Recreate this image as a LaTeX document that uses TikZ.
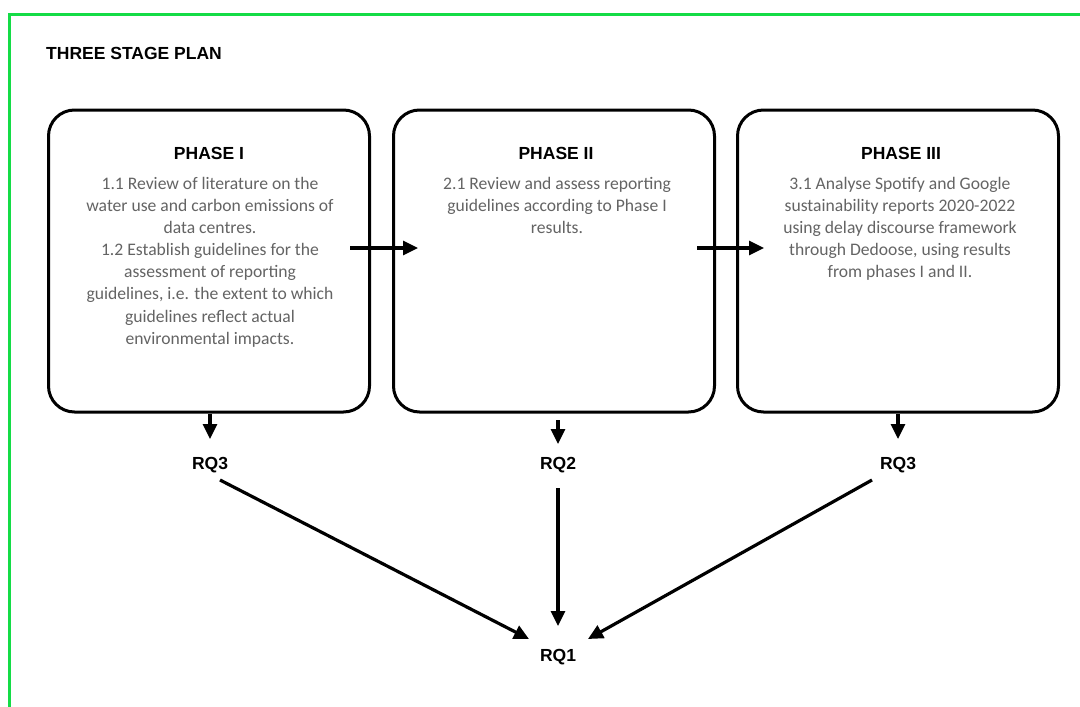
\documentclass[tikz,border=0pt]{standalone}
\usepackage{fontspec}
\setmainfont{Carlito}
\newfontfamily\headfont{Liberation Sans}
\usetikzlibrary{arrows.meta}
\definecolor{framegreen}{RGB}{20,220,70}
\definecolor{bodygray}{RGB}{100,100,100}
\begin{document}
\begin{tikzpicture}[x=1pt,y=-1pt,
  phasebox/.style={draw=black,line width=3pt,rounded corners=26pt,minimum width=321pt,minimum height=302pt,inner sep=0pt},
  headtxt/.style={font=\headfont\bfseries\fontsize{17.5}{20}\selectfont,inner sep=0pt},
  bodytxt/.style={font=\fontsize{17.6}{22.1}\selectfont,text=bodygray,align=center,inner sep=0pt,anchor=north},
  rqtxt/.style={font=\headfont\bfseries\fontsize{17.5}{20}\selectfont,inner sep=0pt},
  arr/.style={line width=3.2pt,-{Triangle[length=15pt,width=14pt]}}
]
\useasboundingbox (0,0) rectangle (1080,707);
\fill[white] (0,0) rectangle (1080,707);
% green frame
\draw[framegreen,line width=3pt] (9,710) -- (9,14) -- (1083,14);
% title
\node[headtxt,anchor=west] (title) at (46,53) {THREE STAGE PLAN};
% boxes
\node[phasebox] (p1) at (209,261) {};
\node[phasebox] (p2) at (554,261) {};
\node[phasebox] (p3) at (898,261) {};
% headings
\node[headtxt] (h1) at (209,153) {PHASE I};
\node[headtxt] (h2) at (556,153) {PHASE II};
\node[headtxt] (h3) at (901,153) {PHASE III};
% body texts
\node[bodytxt] (t1) at (210,177) {1.1 Review of literature on the\\water use and carbon emissions of\\data centres.\\1.2 Establish guidelines for the\\assessment of reporting\\guidelines, i.e. the extent to which\\guidelines reflect actual\\environmental impacts.};
\node[bodytxt] (t2) at (557,177) {2.1 Review and assess reporting\\guidelines according to Phase I\\results.};
\node[bodytxt] (t3) at (900,177) {3.1 Analyse Spotify and Google\\sustainability reports 2020-2022\\using delay discourse framework\\through Dedoose, using results\\from phases I and II.};
% horizontal arrows
\coordinate (a1s) at (350,248);
\coordinate (a1e) at (418,248);
\coordinate (a2s) at (697,248);
\coordinate (a2e) at (764,248);
\draw[arr] (a1s) -- (a1e);
\draw[arr] (a2s) -- (a2e);
% RQ labels
\node[rqtxt] (rq3a) at (210,465) {RQ3};
\node[rqtxt] (rq2) at (558,465) {RQ2};
\node[rqtxt] (rq3b) at (898,465) {RQ3};
\node[rqtxt] (rq1) at (558,657) {RQ1};
% down arrows
\coordinate (d1e) at (210,439);
\coordinate (d2s) at (558,420);
\coordinate (d2e) at (558,444);
\coordinate (d3e) at (898,439);
\draw[arr] (p1.south -| d1e) -- (d1e);
\draw[arr] (d2s) -- (d2e);
\draw[arr] (p3.south -| d3e) -- (d3e);
% converging arrows
\coordinate (c1s) at (220,480);
\coordinate (c1e) at (529,639);
\coordinate (c2s) at (558,488);
\coordinate (c2e) at (558,626);
\coordinate (c3s) at (872,480);
\coordinate (c3e) at (588,639);
\draw[arr] (c1s) -- (c1e);
\draw[arr] (c2s) -- (c2e);
\draw[arr] (c3s) -- (c3e);
\end{tikzpicture}
\end{document}
